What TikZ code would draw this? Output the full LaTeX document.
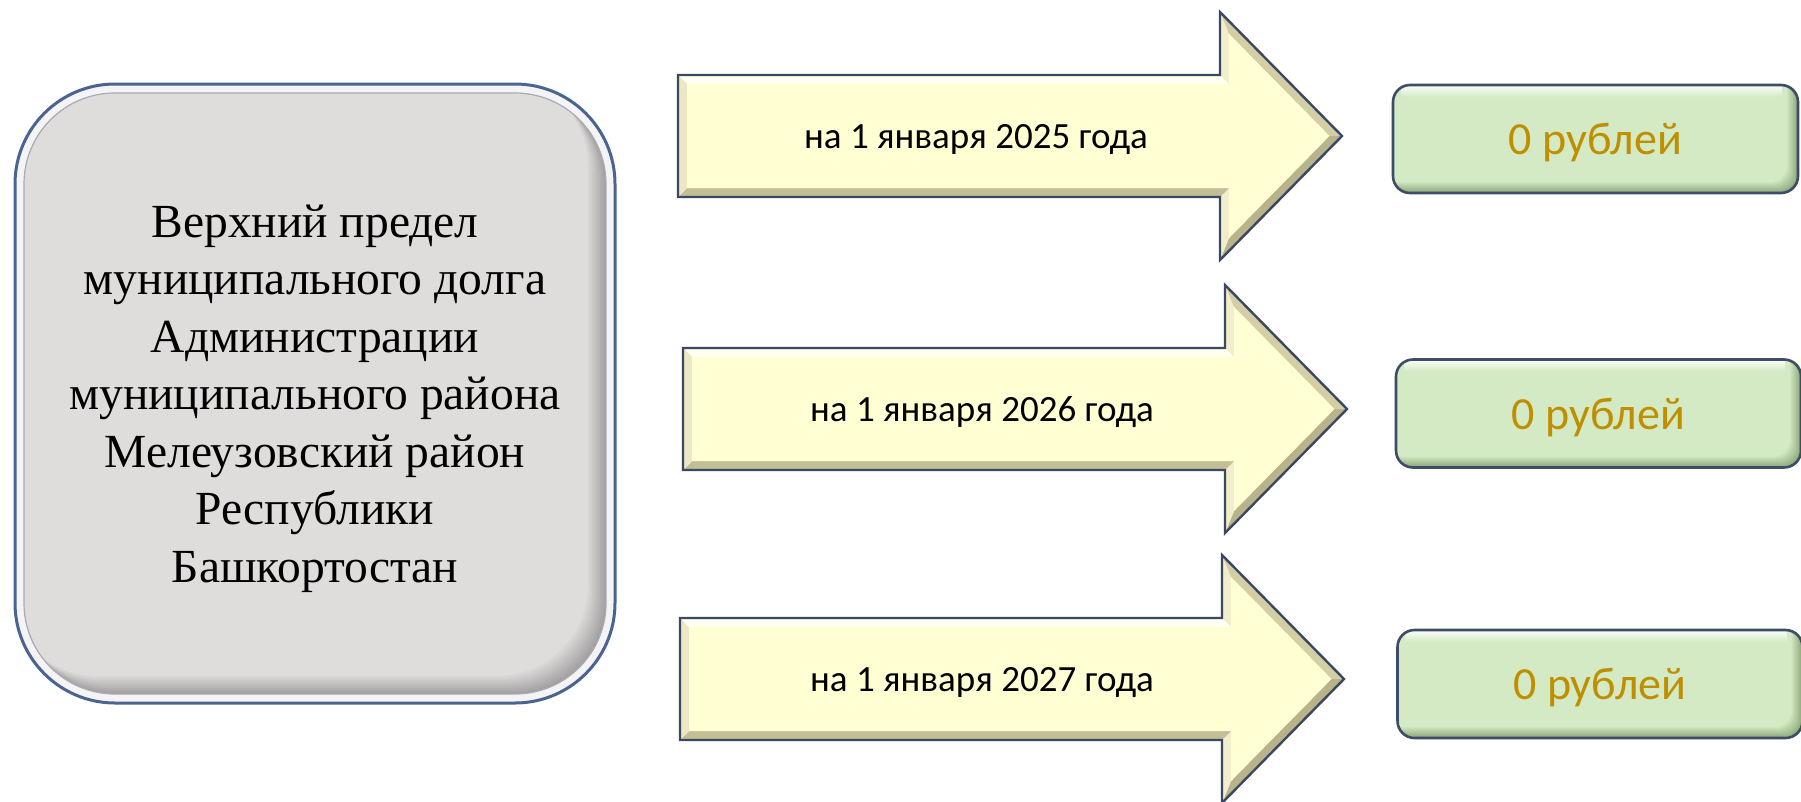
\documentclass[tikz,border=0pt]{standalone}
\usepackage{fontspec}
\setmainfont{Liberation Serif}
\newfontfamily\calib{Carlito}
\usetikzlibrary{shadings}
\definecolor{srcedge}{HTML}{4A6391}
\definecolor{srcband}{HTML}{F4F4F6}
\definecolor{srcline}{HTML}{ABABB0}
\definecolor{srcgray}{HTML}{DFDCDC}
\definecolor{srcshadow}{HTML}{A3A1A1}
\definecolor{arredge}{HTML}{3A4864}
\definecolor{cream}{HTML}{FFFFD3}
\definecolor{ftop}{HTML}{FFFFF2}
\definecolor{fvert}{HTML}{F1EECC}
\definecolor{fdiagup}{HTML}{D3CEA6}
\definecolor{fdiagdn}{HTML}{B9B38B}
\definecolor{fbot}{HTML}{C4BE96}
\definecolor{fleft}{HTML}{ECE8C3}
\definecolor{valedge}{HTML}{3E4D67}
\definecolor{valfill}{HTML}{D3EAC4}
\definecolor{valdark}{HTML}{8FA97D}
\definecolor{valtext}{HTML}{BF8F00}
\tikzset{
  srcbox/.style={rounded corners=100pt, draw=srcedge, line width=3pt, fill=srcband,
    minimum width=600pt, minimum height=619pt, inner sep=0pt, align=center,
    font=\fontsize{47.5}{57.5}\selectfont, text depth=0pt,
    path picture={
      \begin{scope}
        \clip[rounded corners=91pt] ([shift={(9,9)}]path picture bounding box.north west)
          rectangle ([shift={(-9,-9)}]path picture bounding box.south east);
        \foreach \k in {0,2,...,18}{
          \pgfmathsetmacro\mixp{100*\k/18}
          \fill[srcgray!\mixp!srcshadow, rounded corners=91pt]
            ([shift={(9-\k,9-\k)}]path picture bounding box.north west)
            rectangle ([shift={(-9-\k,-9-\k)}]path picture bounding box.south east);
        }
      \end{scope}
      \draw[srcline, line width=1.2pt, rounded corners=91pt]
        ([shift={(9,9)}]path picture bounding box.north west)
        rectangle ([shift={(-9,-9)}]path picture bounding box.south east);
    }},
  valbox/.style={rounded corners=17pt, draw=valedge, line width=2.6pt, fill=valdark,
    minimum width=405pt, minimum height=108pt, inner sep=0pt,
    font=\calib\fontsize{46}{55}\selectfont, text=valtext, text depth=0pt,
    path picture={
      \foreach \k in {0,1,...,11}{
        \pgfmathsetmacro\mixp{100*\k/11}
        \fill[valfill!\mixp!valdark, rounded corners=17pt]
          ([shift={(-\k,-\k)}]path picture bounding box.north west)
          rectangle ([shift={(-\k,-\k)}]path picture bounding box.south east);
      }
      \fill[top color=white!85!valfill, bottom color=valfill, sharp corners]
        ([shift={(8,1)}]path picture bounding box.north west)
        rectangle ([shift={(-16,12)}]path picture bounding box.north east);
    }},
  arrtext/.style={font=\calib\fontsize{37}{44}\selectfont, inner sep=0pt, text depth=0pt},
  arrline/.style={draw=arredge, line width=2.4pt, line join=miter}
}
\newcommand\bevarrow[2]{%
  \begin{scope}[shift={(#1,#2)}]
    \fill[ftop]    (0,-61) -- (542,-61) -- (551,-52) -- (9,-52) -- cycle;
    \fill[fvert]   (542,-61) -- (542,-124) -- (551,-102) -- (551,-52) -- cycle;
    \fill[fdiagup] (542,-124) -- (664,0) -- (651.4,0) -- (551,-102) -- cycle;
    \fill[fdiagdn] (664,0) -- (542,124) -- (551,102) -- (651.4,0) -- cycle;
    \fill[fvert]   (542,124) -- (542,61) -- (551,52) -- (551,102) -- cycle;
    \fill[fbot]    (542,61) -- (0,61) -- (9,52) -- (551,52) -- cycle;
    \fill[fleft]   (0,61) -- (0,-61) -- (9,-52) -- (9,52) -- cycle;
    \fill[cream]   (9,-52) -- (551,-52) -- (551,-102) -- (651.4,0) -- (551,102)
                   -- (551,52) -- (9,52) -- cycle;
    \draw[arrline] (0,-61) -- (542,-61) -- (542,-124) -- (664,0) -- (542,124)
                   -- (542,61) -- (0,61) -- cycle;
  \end{scope}}
\begin{document}
\begin{tikzpicture}[x=1pt,y=-1pt]
\useasboundingbox[fill=white] (0,0) rectangle (1801,801);

\node[srcbox] (src) at (315,393.5) {Верхний предел\\муниципального долга\\Администрации\\муниципального района\\Мелеузовский район\\Республики\\Башкортостан};

\bevarrow{678}{136}
\bevarrow{683}{409}
\bevarrow{680}{679}

\node[arrtext] (t1) at (976,136) {на 1 января 2025 года};
\node[arrtext] (t2) at (982,409) {на 1 января 2026 года};
\node[arrtext] (t3) at (982,679) {на 1 января 2027 года};

\node[valbox] (v1) at (1595.5,139) {0 рублей};
\node[valbox] (v2) at (1598.5,413.5) {0 рублей};
\node[valbox] (v3) at (1600,684) {0 рублей};
\end{tikzpicture}
\end{document}
